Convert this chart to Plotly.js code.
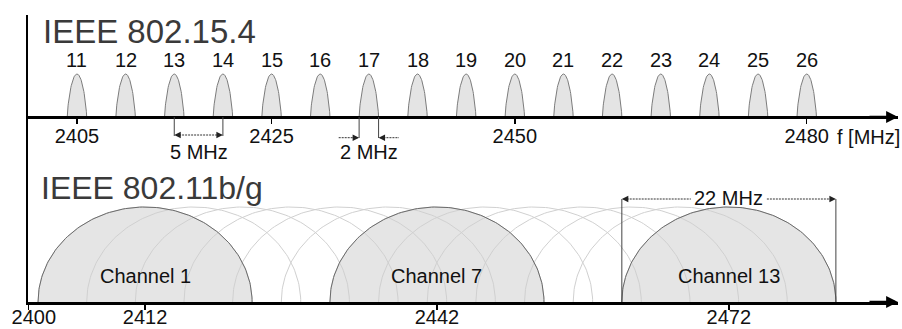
<!DOCTYPE html>
<html><head><meta charset="utf-8">
<script src="https://cdn.plot.ly/plotly-3.0.1.min.js"></script>
<style>html,body{margin:0;padding:0;background:#fff;}#chart{width:902px;height:329px;}</style>
</head><body><div id="chart"></div>
<script>
// ---- data ----
const zigbeeChannels = ['11','12','13','14','15','16','17','18','19','20','21','22','23','24','25','26'];
const zigbeeCenters = [2405,2410,2415,2420,2425,2430,2435,2440,2445,2450,2455,2460,2465,2470,2475,2480];
const zigbeeBandwidth = 2;
const zigbeeTicks = [2405,2425,2450,2480];
const zigbeeTickText = ['2405','2425','2450','2480'];
const wifiChannels = ['1','2','3','4','5','6','7','8','9','10','11','12','13'];
const wifiCenters = [2412,2417,2422,2427,2432,2437,2442,2447,2452,2457,2462,2467,2472];
const wifiBandwidth = 22;
const wifiHighlighted = ['1','7','13'];
const wifiTicks = [2400,2412,2442,2472];
const wifiTickText = ['\u00a0\u00a02400','2412','2442','2472'];
const titles = ['IEEE 802.15.4','IEEE 802.11b/g'];
const unitLabel = 'f [MHz]';
const spacingExample = {from: 2415, to: 2420, label: '5 MHz'};
const widthExample = {center: 2435, label: '2 MHz'};
const wifiWidthExample = {center: 2472, label: '22 MHz'};

// ---- geometry helpers (page layout only) ----
const W = 902, H = 329;
const PX_PER_MHZ = 9.73;
const X0PX = 28.3, XENDPX = 898;
const xRange = [2400, 2400 + (XENDPX - X0PX) / PX_PER_MHZ];
const xDomain = [X0PX / W, XENDPX / W];
const TOP_BASE = 117, TOP_UNIT = 43, TOP_TOP = 15, SPLIT = 170;
const BOT_BASE = 302, BOT_UNIT = 95;
const pf = p => 1 - p / H;

function outline(centers, halfWidth, exponent, n) {
  const xs = [], ys = [];
  centers.forEach(c => {
    for (let i = 0; i <= n; i++) {
      const t = Math.PI * i / n;
      xs.push(c - halfWidth * Math.cos(t));
      ys.push(Math.pow(Math.sin(t), exponent));
    }
    xs.push(null); ys.push(null);
  });
  return {xs, ys};
}

const FONT = 'Liberation Sans, Arial, Helvetica, sans-serif';
const zb = outline(zigbeeCenters, zigbeeBandwidth / 2, 1.5, 60);
const hlCenters = wifiCenters.filter((c, i) => wifiHighlighted.includes(wifiChannels[i]));
const wfAll = outline(wifiCenters, wifiBandwidth / 2, 1, 120);
const wfHl = outline(hlCenters, wifiBandwidth / 2, 1, 120);

const traces = [
  {x: zb.xs, y: zb.ys, xaxis: 'x', yaxis: 'y', mode: 'lines', fill: 'toself',
   fillcolor: '#e4e4e4', line: {color: '#7c7c7c', width: 1}, hoverinfo: 'skip'},
  {x: wfHl.xs, y: wfHl.ys, xaxis: 'x2', yaxis: 'y2', mode: 'lines', fill: 'toself',
   fillcolor: '#e5e5e5', line: {color: 'rgba(0,0,0,0)', width: 0}, hoverinfo: 'skip'},
  {x: wfAll.xs, y: wfAll.ys, xaxis: 'x2', yaxis: 'y2', mode: 'lines',
   line: {color: '#d0d0d0', width: 1}, hoverinfo: 'skip'},
  {x: wfHl.xs, y: wfHl.ys, xaxis: 'x2', yaxis: 'y2', mode: 'lines',
   line: {color: '#6a6a6a', width: 1}, hoverinfo: 'skip'}
];

const annotations = [];
const shapes = [];
const txt = (s, c) => ({size: s, color: c || '#111', family: FONT});

// titles
annotations.push({text: titles[0], xref: 'paper', yref: 'paper', x: 41 / W, y: pf(31), xanchor: 'left', yanchor: 'middle', showarrow: false, font: txt(33, '#3a3a3a')});
annotations.push({text: titles[1], xref: 'paper', yref: 'paper', x: 39 / W, y: pf(188), xanchor: 'left', yanchor: 'middle', showarrow: false, font: txt(32, '#3a3a3a')});

// channel numbers
zigbeeCenters.forEach((c, i) => annotations.push({text: zigbeeChannels[i], xref: 'x', yref: 'y', x: c, y: (TOP_BASE - 60) / TOP_UNIT, yanchor: 'middle', showarrow: false, font: txt(20)}));
// wifi channel names
wifiCenters.forEach((c, i) => {
  if (wifiHighlighted.includes(wifiChannels[i]))
    annotations.push({text: 'Channel ' + wifiChannels[i], xref: 'x2', yref: 'y2', x: c, y: (BOT_BASE - 275.5) / BOT_UNIT, yanchor: 'middle', showarrow: false, font: txt(20)});
});

// unit labels
annotations.push({text: unitLabel, xref: 'x', yref: 'y', x: 2400 + (835 - X0PX) / PX_PER_MHZ, y: -(136.7 - TOP_BASE) / TOP_UNIT, xanchor: 'left', yanchor: 'middle', showarrow: false, font: txt(20)});
annotations.push({text: unitLabel, xref: 'x2', yref: 'y2', x: 2400 + (835 - X0PX) / PX_PER_MHZ, y: -(319 - BOT_BASE) / BOT_UNIT, xanchor: 'left', yanchor: 'middle', showarrow: false, font: txt(20)});

// axis arrowheads
[['x', 'y'], ['x2', 'y2']].forEach(([xr, yr]) => annotations.push({text: '', xref: xr, yref: yr, x: xRange[1], y: 0, ax: -30, ay: 0, showarrow: true, arrowhead: 2, arrowsize: 0.95, arrowwidth: 2.5, arrowcolor: '#000'}));

function head(xr, yr, x, y, dir) {
  annotations.push({text: '', xref: xr, yref: yr, x: x, y: y, ax: -dir * 7, ay: 0, showarrow: true, arrowhead: 2, arrowsize: 1.3, arrowwidth: 1, arrowcolor: '#222'});
}
const dotted = {color: '#333', width: 1, dash: '2px,1px'};
const solid = {color: '#444', width: 1};

// 5 MHz spacing
{
  const yv = -(136 - TOP_BASE) / TOP_UNIT, ya = -(135 - TOP_BASE) / TOP_UNIT;
  [spacingExample.from, spacingExample.to].forEach(x => shapes.push({type: 'line', xref: 'x', yref: 'y', x0: x, x1: x, y0: 0, y1: yv, line: solid}));
  shapes.push({type: 'line', xref: 'x', yref: 'y', x0: spacingExample.from + 0.5, x1: spacingExample.to - 0.5, y0: ya, y1: ya, line: dotted});
  head('x', 'y', spacingExample.from, ya, -1);
  head('x', 'y', spacingExample.to, ya, 1);
  annotations.push({text: spacingExample.label, xref: 'x', yref: 'y', x: (spacingExample.from + spacingExample.to) / 2, y: -(152 - TOP_BASE) / TOP_UNIT, yanchor: 'middle', showarrow: false, font: txt(20)});
}
// 2 MHz width
{
  const l = widthExample.center - zigbeeBandwidth / 2, r = widthExample.center + zigbeeBandwidth / 2;
  const yv = -(138 - TOP_BASE) / TOP_UNIT, ya = -(137.7 - TOP_BASE) / TOP_UNIT;
  [l, r].forEach(x => shapes.push({type: 'line', xref: 'x', yref: 'y', x0: x, x1: x, y0: 0, y1: yv, line: solid}));
  shapes.push({type: 'line', xref: 'x', yref: 'y', x0: l - 2.1, x1: l - 0.5, y0: ya, y1: ya, line: dotted});
  shapes.push({type: 'line', xref: 'x', yref: 'y', x0: r + 0.5, x1: r + 2.1, y0: ya, y1: ya, line: dotted});
  head('x', 'y', l, ya, 1);
  head('x', 'y', r, ya, -1);
  annotations.push({text: widthExample.label, xref: 'x', yref: 'y', x: widthExample.center, y: -(152 - TOP_BASE) / TOP_UNIT, yanchor: 'middle', showarrow: false, font: txt(20)});
}
// 22 MHz width
{
  const l = wifiWidthExample.center - wifiBandwidth / 2, r = wifiWidthExample.center + wifiBandwidth / 2;
  const ya = (BOT_BASE - 199) / BOT_UNIT;
  const gap = 38 / PX_PER_MHZ;
  [l, r].forEach(x => shapes.push({type: 'line', xref: 'x2', yref: 'y2', x0: x, x1: x, y0: 0, y1: ya, line: solid}));
  shapes.push({type: 'line', xref: 'x2', yref: 'y2', x0: l + 0.5, x1: wifiWidthExample.center - gap, y0: ya, y1: ya, line: dotted});
  shapes.push({type: 'line', xref: 'x2', yref: 'y2', x0: wifiWidthExample.center + gap, x1: r - 0.5, y0: ya, y1: ya, line: dotted});
  head('x2', 'y2', l, ya, -1);
  head('x2', 'y2', r, ya, 1);
  annotations.push({text: wifiWidthExample.label, xref: 'x2', yref: 'y2', x: wifiWidthExample.center, y: (BOT_BASE - 197.5) / BOT_UNIT, yanchor: 'middle', showarrow: false, font: txt(20)});
}

const xCommon = {range: xRange, domain: xDomain, showline: true, linewidth: 2.5, linecolor: '#000',
  ticks: 'outside', ticklen: 5, tickwidth: 1.5, tickcolor: '#000', showgrid: false, zeroline: false,
  tickfont: txt(20), fixedrange: true};
const yCommon = {showline: true, linewidth: 2.5, linecolor: '#000', showticklabels: false, ticks: '',
  showgrid: false, zeroline: false, fixedrange: true};

const layout = {
  width: W, height: H, margin: {l: 0, r: 0, t: 0, b: 0, pad: 0},
  paper_bgcolor: '#fff', plot_bgcolor: 'rgba(0,0,0,0)', showlegend: false,
  font: {family: FONT},
  xaxis: Object.assign({}, xCommon, {anchor: 'free', position: pf(TOP_BASE), tickvals: zigbeeTicks, ticktext: zigbeeTickText, ticklabelstandoff: -5}),
  yaxis: Object.assign({}, yCommon, {anchor: 'x', domain: [pf(SPLIT), pf(TOP_TOP)], range: [-(SPLIT - TOP_BASE) / TOP_UNIT, (TOP_BASE - TOP_TOP) / TOP_UNIT]}),
  xaxis2: Object.assign({}, xCommon, {anchor: 'y2', tickvals: wifiTicks, ticktext: wifiTickText, ticklabelstandoff: -10}),
  yaxis2: Object.assign({}, yCommon, {anchor: 'x2', domain: [pf(BOT_BASE), pf(SPLIT)], range: [0, (BOT_BASE - SPLIT) / BOT_UNIT]}),
  annotations: annotations, shapes: shapes
};

Plotly.newPlot('chart', traces, layout, {displayModeBar: false, staticPlot: true});
</script></body></html>
